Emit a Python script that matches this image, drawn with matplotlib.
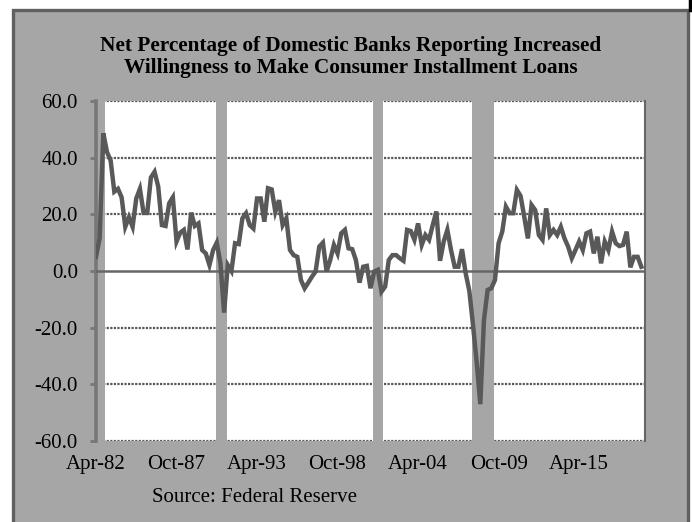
import matplotlib.pyplot as plt
import numpy as np
from matplotlib.patches import Rectangle

plt.rcParams['font.family'] = 'Liberation Serif'
plt.rcParams['axes.unicode_minus'] = False

# Quarterly net percentage, Apr-82 onwards
net_pct = [5, 11.6, 48.6, 42, 39, 28, 29, 26, 15.6, 19,
           15.6, 25.6, 29, 20.5, 20.5, 33, 35, 29.8, 16.2, 15.9,
           23.9, 26, 10.4, 13.5, 14.5, 7.6, 20.6, 15.9, 16.8, 7.4,
           6.2, 2.1, 7.4, 10, 2.7, -14.7, 2.1, 0, 9.8, 9.5,
           18.6, 20.4, 16.2, 15, 25.6, 25.6, 17.4, 29.2, 28.8, 20.9,
           25, 16.2, 18.6, 7.4, 5.6, 5, -3.2, -6.1, -4.1, -2,
           -0.2, 8.6, 10, -0.2, 3.9, 9.2, 6.2, 13.3, 14.5, 8,
           7.7, 3.9, -4.1, 1.5, 1.8, -6.1, -0.2, 0.4, -7.3, -5.5,
           3.9, 5.6, 5.6, 4.5, 3.6, 14.5, 14.1, 11, 16.8, 9.2,
           12.7, 11, 16.2, 21, 3.6, 10.4, 14.5, 7.4, 1.5, 1.5,
           7.7, -0.8, -7, -19, -32, -47, -17.3, -6.7, -6.1, -3.2,
           9.8, 13.9, 22.7, 20.4, 20.4, 28.6, 26.5, 19.2, 11.5, 23.3,
           21.5, 12.7, 11, 22.1, 12.7, 14.5, 12.7, 15.6, 11.5, 8.6,
           4.5, 7.4, 10.4, 7.4, 13.3, 13.9, 6.2, 12.1, 2.7, 10.4,
           7.4, 13.9, 9.8, 8.8, 9.2, 13.9, 1.3, 5, 5, 1.5]
dates = 1982.25 + 0.25 * np.arange(len(net_pct))

# NBER recessions (decimal years)
rec_start = [1981.5, 1990.42, 2001.17, 2007.92]
rec_end = [1982.87, 1991.17, 2001.87, 2009.42]

tick_pos = [1982.25, 1987.75, 1993.25, 1998.75, 2004.25, 2009.75, 2015.25]
tick_labels = ['Apr-82', 'Oct-87', 'Apr-93', 'Oct-98', 'Apr-04', 'Oct-09', 'Apr-15']
y_ticks = [-60, -40, -20, 0, 20, 40, 60]

W, H = 692, 522
fig = plt.figure(figsize=(W / 100, H / 100), dpi=100)
fig.patch.set_facecolor('white')

# gray chart panel
fig.patches.append(Rectangle((13 / W, -0.05), (688 - 13) / W, 512 / H + 0.05,
                             transform=fig.transFigure, facecolor='#a6a6a6',
                             edgecolor='#606060', linewidth=2.4, zorder=-5))
fig.add_artist(plt.Line2D([690 / W, 690 / W], [512 / H, 1], transform=fig.transFigure,
                          color='black', linewidth=2.5, zorder=-4))

ax = fig.add_axes([96 / W, 81 / H, (645 - 96) / W, 340 / H])
ax.set_zorder(1)
ax.set_facecolor('white')

for s, e in zip(rec_start, rec_end):
    ax.axvspan(s, e, color='#a6a6a6', linewidth=0, zorder=2)

for y in y_ticks:
    if y != 0:
        ax.axhline(y, color='#595959', linewidth=1.6, linestyle=(0, (1, 0.6)), zorder=1)
ax.axhline(0, color='#666666', linewidth=1.8, zorder=3)

ax.plot(dates, net_pct, color='#595959', linewidth=3.2, solid_joinstyle='miter', zorder=4)

ax.set_xlim(1982.25, 2019.75)
ax.set_ylim(-60, 60)
ax.set_yticks(y_ticks)
ax.set_yticklabels([f'{v:.1f}' for v in y_ticks], fontsize=15)
ax.set_xticks(tick_pos)
ax.set_xticklabels(tick_labels, fontsize=15)
ax.tick_params(axis='y', direction='out', length=4, width=2, color='#777777', pad=9)
ax.tick_params(axis='x', length=0, pad=10)

for side in ['top', 'bottom']:
    ax.spines[side].set_visible(False)
ax.spines['left'].set_color('#777777')
ax.spines['left'].set_linewidth(2.6)
ax.spines['right'].set_color('#666666')
ax.spines['right'].set_linewidth(1.5)

fig.text(351 / W, 1 - 57 / H,
         'Net Percentage of Domestic Banks Reporting Increased\nWillingness to Make Consumer Installment Loans',
         ha='center', va='center', fontsize=15.3, fontweight='bold', linespacing=1.1)
fig.text(152 / W, 1 - 497 / H, 'Source: Federal Reserve', ha='left', va='center', fontsize=15)

fig.savefig('out.png', dpi=100)
